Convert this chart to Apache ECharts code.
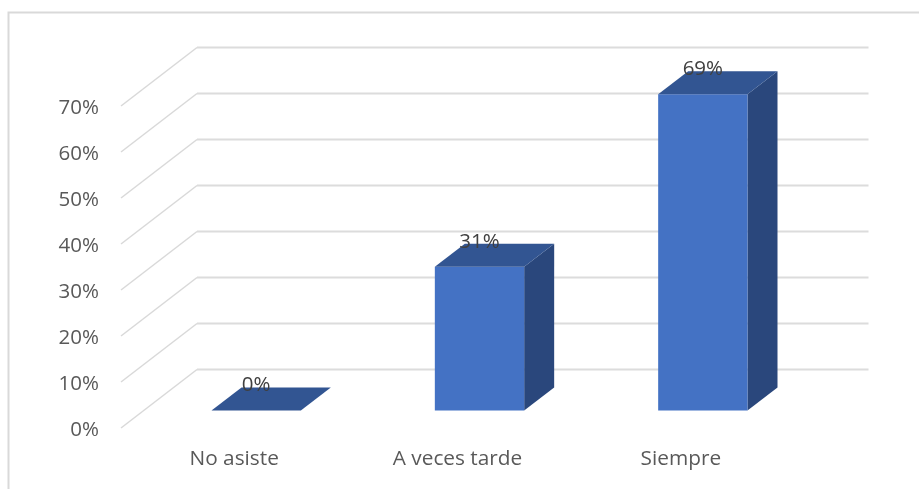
<!DOCTYPE html>
<html>
<head>
<meta charset="utf-8">
<style>html,body{margin:0;padding:0;background:#fff}#c{width:919px;height:489px}</style>
<script src="https://cdn.jsdelivr.net/npm/echarts@6/dist/echarts.min.js"></script>
</head>
<body>
<div id="c"></div>
<script>
const categories = ['No asiste', 'A veces tarde', 'Siempre'];
const values = [0, 31.25, 68.75];
const ticks = [0, 10, 20, 30, 40, 50, 60, 70];

const wallInset = -1.5, wallDx = 76, wallDy = -58.5, wallEnd = 868.5;
const floorDy = -17.5, barShift = 22, depthX = 30, depthY = -23;

const chart = echarts.init(document.getElementById('c'), null, {renderer: 'canvas'});
chart.setOption({
  animation: false,
  backgroundColor: '#ffffff',
  textStyle: {fontFamily: '"Open Sans", sans-serif'},
  graphic: [{
    type: 'polyline',
    silent: true,
    shape: {points: [[8.5, 489], [8.5, 12.5], [919, 12.5]]},
    style: {fill: null, stroke: '#d9d9d9', lineWidth: 2}
  }],
  grid: {left: 122.5, top: 106, width: 670, height: 322},
  xAxis: {
    type: 'category',
    data: categories,
    axisLine: {show: false},
    axisTick: {show: false},
    axisLabel: {color: '#595959', fontSize: 20.8, margin: 21, fontFamily: '"Open Sans", sans-serif'}
  },
  yAxis: {
    type: 'value',
    min: 0,
    max: 70,
    interval: 10,
    axisLine: {show: false},
    axisTick: {show: false},
    splitLine: {show: false},
    axisLabel: {color: '#595959', fontSize: 20.5, margin: 23.5, verticalAlign: 'top', lineHeight: 4, formatter: '{value}%', fontFamily: '"Open Sans", sans-serif'}
  },
  series: [{
    type: 'custom',
    z: 1,
    silent: true,
    coordinateSystem: 'cartesian2d',
    data: ticks.map(t => [0, t]),
    encode: {x: 0, y: 1},
    renderItem(params, api) {
      const y = api.coord([0, api.value(1)])[1];
      const x0 = params.coordSys.x + wallInset;
      const style = {fill: null, stroke: '#d9d9d9', lineWidth: 1.5};
      return {
        type: 'group',
        children: [
          {type: 'line', shape: {x1: x0, y1: y, x2: x0 + wallDx, y2: y + wallDy}, style},
          {type: 'line', shape: {x1: x0 + wallDx, y1: y + wallDy, x2: wallEnd, y2: y + wallDy},
           style: {stroke: '#dcdcdc', lineWidth: 2.2}}
        ]
      };
    }
  }, {
    type: 'custom',
    z: 2,
    silent: true,
    coordinateSystem: 'cartesian2d',
    data: categories.map((c, i) => [i, values[i]]),
    encode: {x: 0, y: 1},
    renderItem(params, api) {
      const top = api.coord([api.value(0), api.value(1)]);
      const base = api.coord([api.value(0), 0]);
      const w = api.size([1, 0])[0] * 0.4;
      const l = top[0] + barShift - w / 2, r = l + w;
      const yt = top[1] + floorDy, yb = base[1] + floorDy;
      const children = [];
      if (yb - yt > 0.5) {
        children.push({type: 'polygon',
          shape: {points: [[r, yt], [r + depthX, yt + depthY], [r + depthX, yb + depthY], [r, yb]]},
          style: {fill: '#2a477c'}});
        children.push({type: 'rect', shape: {x: l, y: yt, width: w, height: yb - yt}, style: {fill: '#4472c4'}});
      }
      children.push({type: 'polygon',
        shape: {points: [[l, yt], [r, yt], [r + depthX, yt + depthY], [l + depthX, yt + depthY]]},
        style: {fill: '#325592'}});
      children.push({type: 'text', z2: 10, style: {
        text: Math.round(api.value(1)) + '%',
        x: l + w / 2, y: yt - 25,
        align: 'center', verticalAlign: 'middle',
        fill: '#404040', fontSize: 20.5, fontFamily: '"Open Sans", sans-serif'
      }});
      return {type: 'group', children};
    }
  }]
});
</script>
</body>
</html>
